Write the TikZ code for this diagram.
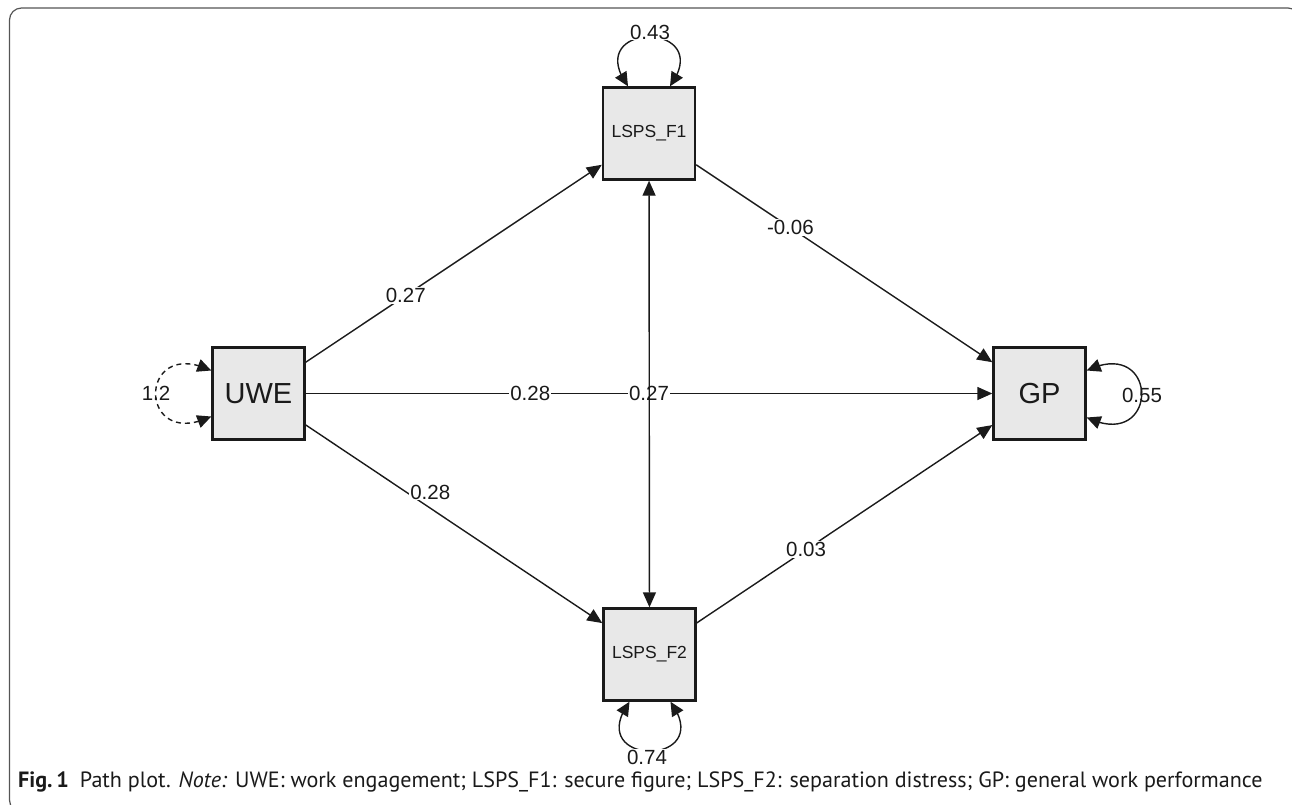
\documentclass[tikz,border=0pt]{standalone}
\usepackage{fontspec}
\setmainfont{Liberation Sans}
\newfontfamily\capfont{PT Sans}
\usetikzlibrary{arrows.meta,bending}
\definecolor{boxfill}{HTML}{E8E8E8}
\definecolor{ink}{HTML}{1A1A1A}
\definecolor{framegray}{HTML}{555555}
\tikzset{
  var/.style={draw=ink, fill=boxfill, line width=2.4pt, minimum width=92pt, minimum height=92pt, inner sep=0pt, text=ink},
  bigtxt/.style={font=\fontsize{29}{29}\selectfont},
  smalltxt/.style={font=\fontsize{17.5}{17.5}\selectfont},
  path/.style={draw=ink, line width=1.4pt, -{Triangle[length=15pt,width=13pt]}},
  bipath/.style={draw=ink, line width=1.4pt, {Triangle[length=15pt,width=13pt]}-{Triangle[length=15pt,width=13pt]}},
  varloop/.style={draw=ink, line width=1.4pt, {Triangle[length=14pt,width=13pt,flex]}-{Triangle[length=14pt,width=13pt,flex]}},
  elab/.style={font=\fontsize{20.5}{20.5}\selectfont, text=ink, inner sep=1pt},
  wlab/.style={elab, fill=white},
}
\begin{document}
\begin{tikzpicture}[x=1pt,y=-1pt]
\useasboundingbox (0,0) rectangle (1292,804);
% frame
\draw[framegray, line width=1.2pt, rounded corners=12pt] (1300,40) -- (1300,8) -- (9.5,8) -- (9.5,812) -- (40,812);
% nodes
\node[var, smalltxt] (F1) at (649,133.5) {LSPS\_F1};
\node[var, bigtxt] (UWE) at (258.5,393.5) {UWE};
\node[var, bigtxt] (GP) at (1039.5,393.5) {GP};
\node[var, smalltxt] (F2) at (649.5,654.5) {LSPS\_F2};
% paths
\draw[path] (UWE) -- node[wlab, pos=0.338] (l1) {0.27} (F1);
\draw[path] (UWE) -- node[wlab, pos=0.42, yshift=16pt] (l2) {0.28} (F2);
\draw[path] (UWE) -- node[wlab, pos=0.327] (l3) {0.28} (GP);
\draw[path] (F1) -- node[wlab, pos=0.318] (l4) {-0.06} (GP);
\draw[path] (F2) -- node[wlab, pos=0.37] (l5) {0.03} (GP);
\node[wlab] (l6) at (649,393.5) {0.27};
\draw[bipath] (F1) -- (F2);
% variances
\coordinate (f1a) at ([xshift=-21pt]F1.north);
\coordinate (f1b) at ([xshift=21pt]F1.north);
\draw[varloop] (f1a) .. controls +(-48,-66) and +(48,-66) .. (f1b);
\node[wlab] (v1) at (650,32) {0.43};
\coordinate (f2a) at ([xshift=-20pt]F2.south);
\coordinate (f2b) at ([xshift=21pt]F2.south);
\draw[varloop] (f2a) .. controls +(-48,66) and +(48,66) .. (f2b);
\node[wlab] (v2) at (647,757) {0.74};
\coordinate (ua) at ([yshift=23pt]UWE.west);
\coordinate (ub) at ([yshift=-23pt]UWE.west);
\draw[varloop, dash pattern=on 5pt off 4pt] (ua) .. controls (137,335) and (137,452) .. (ub);
\node[elab] (v3) at (156,393) {1.2};
\coordinate (ga) at ([yshift=23pt]GP.east);
\coordinate (gb) at ([yshift=-24pt]GP.east);
\draw[varloop] (ga) .. controls (1160,335) and (1160,453) .. (gb);
\node[elab] (v4) at (1142,395) {0.55};
% caption
\node[anchor=base west, inner sep=0pt, text=ink, font=\capfont\fontsize{22.1}{22.1}\selectfont] (cap) at (18,787)
  {\textbf{Fig.\,1}\enspace Path plot. \textit{Note:} UWE: work engagement; LSPS\_F1: secure figure; LSPS\_F2: separation distress; GP: general work performance};
\end{tikzpicture}
\end{document}
